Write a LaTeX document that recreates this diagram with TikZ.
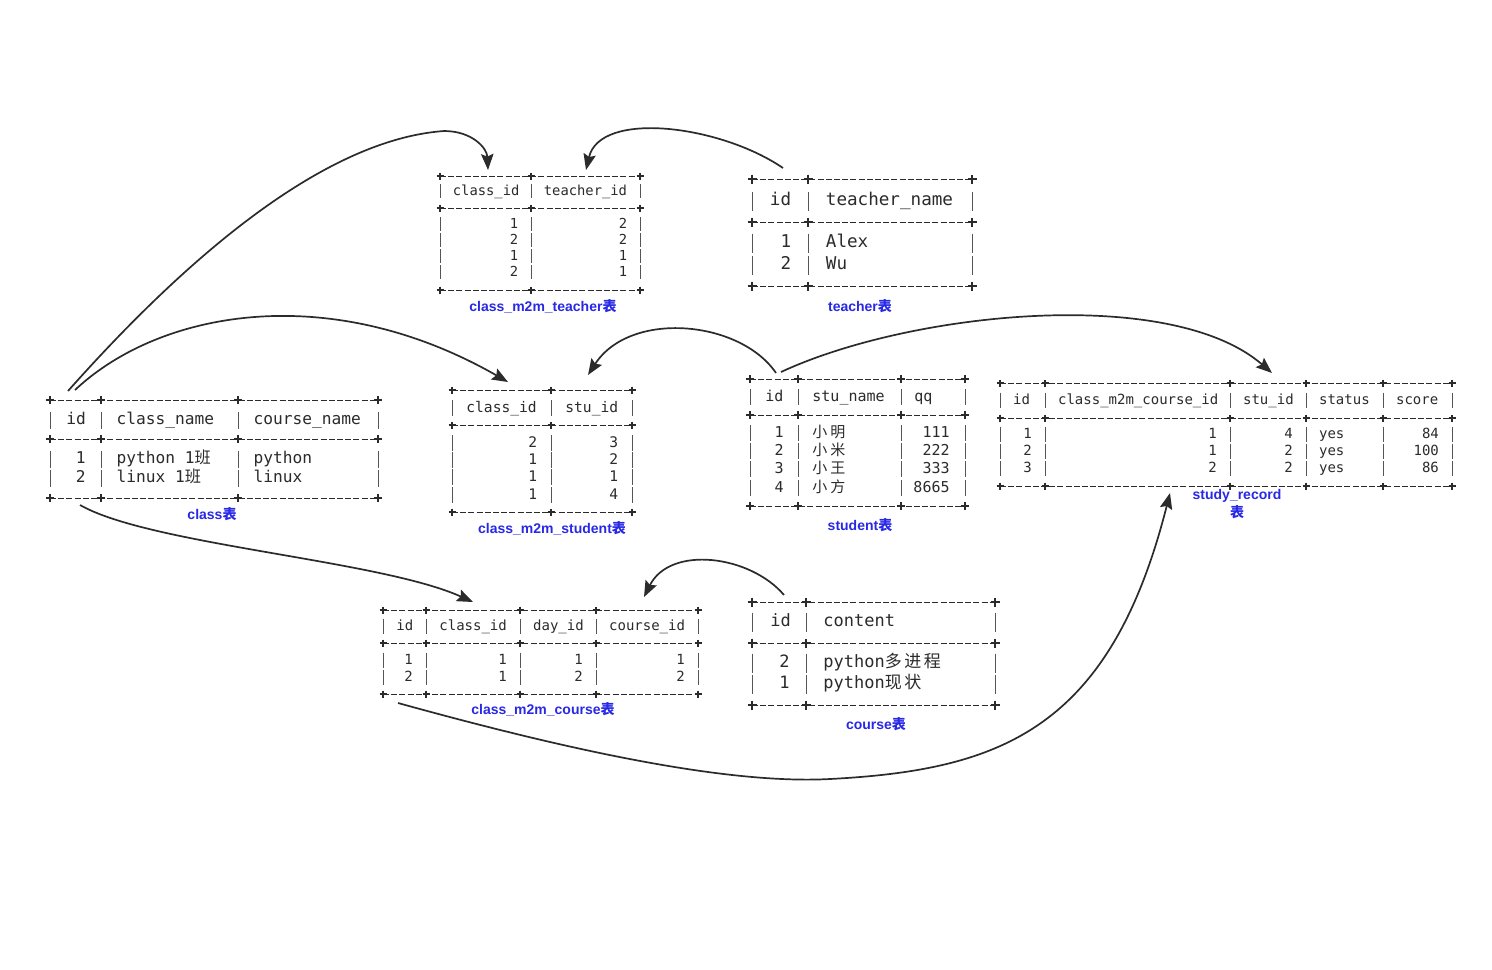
\documentclass[tikz,border=0pt]{standalone}
\usepackage{fontspec}
\setmonofont{DejaVu Sans Mono}
\setsansfont{Liberation Sans}
\newfontfamily\cjk{Noto Sans CJK SC}
\usetikzlibrary{arrows.meta}
\definecolor{ink}{HTML}{2B2B2B}
\definecolor{capblue}{RGB}{40,40,230}
\begin{document}
\begin{tikzpicture}[x=0.5pt,y=-0.5pt,
    gridln/.style={draw=ink,line width=0.5pt,dash pattern=on 3pt off 1.1pt},
    crs/.style={draw=ink,line width=0.55pt},
    vbar/.style={draw=ink!80,line width=0.5pt},
    mono/.style={font=\ttfamily\fontsize{#1}{#1}\selectfont,text=ink,inner sep=0pt},
    hd/.style={anchor=mid west},
    vl/.style={anchor=mid east},
    tbcap/.style={font=\sffamily\bfseries\fontsize{7}{8}\selectfont,text=capblue,inner sep=0pt},
    arr/.style={draw=ink,line width=0.85pt,-{Stealth[length=8pt,width=6.2pt,inset=1.3pt]}}]
    \fill[white] (0,0) rectangle (1492,969);
    \useasboundingbox (0,0) rectangle (1492,969);

    \foreach \y in {176,208,290} \draw[gridln] (440,\y) -- (640,\y);
    \foreach \x in {440,531,640} {
        \foreach \y in {176,208,290} \draw[crs] (\x-3.5,\y) -- (\x+3.5,\y) (\x,\y-3.5) -- (\x,\y+3.5);
        \foreach \y in {191,224,240,256,272} \draw[vbar] (\x,\y-7) -- (\x,\y+7);
    }
    \node[mono=6.9,hd] (mt-h1) at (452.5,191) {class\_id};
    \node[mono=6.9,hd] (mt-h2) at (543.5,191) {teacher\_id};
    \foreach \a/\b [count=\i] in {1/2,2/2,1/1,2/1} {
        \node[mono=6.9,vl] (mt-a\i) at (518.5,208+16*\i) {\a};
        \node[mono=6.9,vl] (mt-b\i) at (627.5,208+16*\i) {\b};
    }
    \node[tbcap] (mt-cap) at (543,306) {class\_m2m\_teacher{\cjk 表}};

    \foreach \y in {179,222,286} \draw[gridln] (752,\y) -- (972,\y);
    \foreach \x in {752,808,972} {
        \foreach \y in {179,222,286} \draw[crs] (\x-4.5,\y) -- (\x+4.5,\y) (\x,\y-4.5) -- (\x,\y+4.5);
        \foreach \y in {201,243,265} \draw[vbar] (\x,\y-9.5) -- (\x,\y+9.5);
    }
    \node[mono=8.8,hd] (tc-h1) at (769.5,201) {id};
    \node[mono=8.8,hd] (tc-h2) at (825.5,201) {teacher\_name};
    \foreach \a/\b [count=\i] in {1/Alex,2/Wu} {
        \node[mono=8.8,vl] (tc-a\i) at (791.5,221+22*\i) {\a};
        \node[mono=8.8,hd] (tc-b\i) at (825.5,221+22*\i) {\b};
    }
    \node[tbcap] (tc-cap) at (860,306) {teacher{\cjk 表}};

    \foreach \y in {400,439,498} \draw[gridln] (50,\y) -- (378,\y);
    \foreach \x in {50,101,238,378} {
        \foreach \y in {400,439,498} \draw[crs] (\x-4,\y) -- (\x+4,\y) (\x,\y-4) -- (\x,\y+4);
        \foreach \y in {420,459,478} \draw[vbar] (\x,\y-8.5) -- (\x,\y+8.5);
    }
    \node[mono=8.1,hd] (cl-h1) at (66,420) {id};
    \node[mono=8.1,hd] (cl-h2) at (116.3,420) {class\_name};
    \node[mono=8.1,hd] (cl-h3) at (253.3,420) {course\_name};
    \node[mono=8.1,vl] (cl-a1) at (86,459) {1};
    \node[mono=8.1,hd] (cl-b1) at (116.3,459) {python 1{\cjk 班}};
    \node[mono=8.1,hd] (cl-c1) at (253.3,459) {python};
    \node[mono=8.1,vl] (cl-a2) at (86,478) {2};
    \node[mono=8.1,hd] (cl-b2) at (116.3,478) {linux 1{\cjk 班}};
    \node[mono=8.1,hd] (cl-c2) at (253.3,478) {linux};
    \node[tbcap] (cl-cap) at (212,514) {class{\cjk 表}};

    \foreach \y in {390,425,512} \draw[gridln] (452,\y) -- (632,\y);
    \foreach \x in {452,551,632} {
        \foreach \y in {390,425,512} \draw[crs] (\x-3.5,\y) -- (\x+3.5,\y) (\x,\y-3.5) -- (\x,\y+3.5);
        \foreach \y in {408,443,460,477,495} \draw[vbar] (\x,\y-7.8) -- (\x,\y+7.8);
    }
    \node[mono=7.3,hd] (ms-h1) at (466,408) {class\_id};
    \node[mono=7.3,hd] (ms-h2) at (565,408) {stu\_id};
    \foreach \a/\b/\y [count=\i] in {2/3/443,1/2/460,1/1/477,1/4/495} {
        \node[mono=7.3,vl] (ms-a\i) at (537.5,\y) {\a};
        \node[mono=7.3,vl] (ms-b\i) at (618.5,\y) {\b};
    }
    \node[tbcap] (ms-cap) at (552,528) {class\_m2m\_student{\cjk 表}};

    \foreach \y in {379,415,506} \draw[gridln] (750,\y) -- (965,\y);
    \foreach \x in {750,798,901,965} {
        \foreach \y in {379,415,506} \draw[crs] (\x-3.8,\y) -- (\x+3.8,\y) (\x,\y-3.8) -- (\x,\y+3.8);
        \foreach \y in {397,433,451,469,488} \draw[vbar] (\x,\y-8) -- (\x,\y+8);
    }
    \node[mono=7.5,hd] (st-h1) at (765,397) {id};
    \node[mono=7.5,hd] (st-h2) at (812,397) {stu\_name};
    \node[mono=7.5,hd] (st-h3) at (914,397) {qq};
    \foreach \a/\b/\c/\y [count=\i] in {1/明/111/433,2/米/222/451,3/王/333/469,4/方/8665/488} {
        \node[mono=7.5,vl] (st-a\i) at (784,\y) {\a};
        \node[mono=7.5,hd] (st-b\i) at (812,\y) {{\cjk 小\hspace{.2em}\b}};
        \node[mono=7.5,vl] (st-c\i) at (950,\y) {\c};
    }
    \node[tbcap] (st-cap) at (860,525) {student{\cjk 表}};

    \foreach \y in {383,418,486} \draw[gridln] (1000,\y) -- (1452,\y);
    \foreach \x in {1000,1045,1230,1306,1383,1452} {
        \foreach \y in {383,418,486} \draw[crs] (\x-3.5,\y) -- (\x+3.5,\y) (\x,\y-3.5) -- (\x,\y+3.5);
        \foreach \y in {400,434,451,468} \draw[vbar] (\x,\y-7.5) -- (\x,\y+7.5);
    }
    \node[mono=7,hd] (sr-h1) at (1012.7,400) {id};
    \node[mono=7,hd] (sr-h2) at (1057.7,400) {class\_m2m\_course\_id};
    \node[mono=7,hd] (sr-h3) at (1242.7,400) {stu\_id};
    \node[mono=7,hd] (sr-h4) at (1318.7,400) {status};
    \node[mono=7,hd] (sr-h5) at (1395.7,400) {score};
    \foreach \a/\b/\c/\d/\y [count=\i] in {1/1/4/84/434,2/1/2/100/451,3/2/2/86/468} {
        \node[mono=7,vl] (sr-a\i) at (1032.3,\y) {\a};
        \node[mono=7,vl] (sr-b\i) at (1217.3,\y) {\b};
        \node[mono=7,vl] (sr-c\i) at (1293.3,\y) {\c};
        \node[mono=7,hd] (sr-d\i) at (1318.7,\y) {yes};
        \node[mono=7,vl] (sr-e\i) at (1439.3,\y) {\d};
    }
    \node[tbcap] (sr-cap) at (1237,496) {study\_record};
    \node[tbcap] (sr-cap2) at (1237,512) {{\cjk 表}};

    \foreach \y in {610,643,694} \draw[gridln] (383,\y) -- (698,\y);
    \foreach \x in {383,426,520,596,698} {
        \foreach \y in {610,643,694} \draw[crs] (\x-3.5,\y) -- (\x+3.5,\y) (\x,\y-3.5) -- (\x,\y+3.5);
        \foreach \y in {626,660,677} \draw[vbar] (\x,\y-7.5) -- (\x,\y+7.5);
    }
    \node[mono=7,hd] (mc-h1) at (396,626) {id};
    \node[mono=7,hd] (mc-h2) at (439,626) {class\_id};
    \node[mono=7,hd] (mc-h3) at (532.75,626) {day\_id};
    \node[mono=7,hd] (mc-h4) at (608.75,626) {course\_id};
    \foreach \a/\b/\c/\d/\y [count=\i] in {1/1/1/1/660,2/1/2/2/677} {
        \node[mono=7,vl] (mc-a\i) at (413.25,\y) {\a};
        \node[mono=7,vl] (mc-b\i) at (507.25,\y) {\b};
        \node[mono=7,vl] (mc-c\i) at (583.25,\y) {\c};
        \node[mono=7,vl] (mc-d\i) at (685.25,\y) {\d};
    }
    \node[tbcap] (mc-cap) at (543,709) {class\_m2m\_course{\cjk 表}};

    \foreach \y in {602,643,705} \draw[gridln] (752,\y) -- (995,\y);
    \foreach \x in {752,806,995} {
        \foreach \y in {602,643,705} \draw[crs] (\x-4.5,\y) -- (\x+4.5,\y) (\x,\y-4.5) -- (\x,\y+4.5);
        \foreach \y in {622,663,684} \draw[vbar] (\x,\y-9.5) -- (\x,\y+9.5);
    }
    \node[mono=8.5,hd] (co-h1) at (770,622) {id};
    \node[mono=8.5,hd] (co-h2) at (823,622) {content};
    \node[mono=8.5,vl] (co-a1) at (790,663) {2};
    \node[mono=8.5,hd] (co-b1) at (823,663) {python{\cjk 多\hspace{.15em}进\hspace{.15em}程}};
    \node[mono=8.5,vl] (co-a2) at (790,684) {1};
    \node[mono=8.5,hd] (co-b2) at (823,684) {python{\cjk 现\hspace{.15em}状}};
    \node[tbcap] (co-cap) at (876,724) {course{\cjk 表}};

    \coordinate (cl-o1) at (68,391);
    \coordinate (mt-i1) at (488,170);
    \coordinate (tc-o) at (783,168);
    \coordinate (mt-i2) at (586,170);
    \coordinate (cl-o2) at (75,390);
    \coordinate (ms-i1) at (508,382);
    \coordinate (st-o1) at (776,373);
    \coordinate (ms-i2) at (588,375);
    \coordinate (st-o2) at (781,372);
    \coordinate (sr-i1) at (1272,373);
    \coordinate (cl-o3) at (80,505);
    \coordinate (mc-i1) at (473,602);
    \coordinate (co-o) at (784,595);
    \coordinate (mc-i2) at (644,597);
    \coordinate (mc-o) at (398,703);
    \coordinate (sr-i2) at (1170,493);

    \draw[arr] (cl-o1) .. controls (180,265) and (320,140) .. (444,131) .. controls (472,131) and (487,148) .. (mt-i1);
    \draw[arr] (tc-o) .. controls (720,125) and (600,110) .. (mt-i2);
    \draw[arr] (cl-o2) .. controls (160,310) and (330,280) .. (ms-i1);
    \draw[arr] (st-o1) .. controls (740,320) and (630,310) .. (ms-i2);
    \draw[arr] (st-o2) .. controls (910,312) and (1170,285) .. (sr-i1);
    \draw[arr] (cl-o3) .. controls (150,545) and (380,560) .. (mc-i1);
    \draw[arr] (co-o) .. controls (750,555) and (670,545) .. (mc-i2);
    \draw[arr] (mc-o) .. controls (550,745) and (720,785) .. (830,779) .. controls (1000,770) and (1110,730) .. (sr-i2);
\end{tikzpicture}
\end{document}
